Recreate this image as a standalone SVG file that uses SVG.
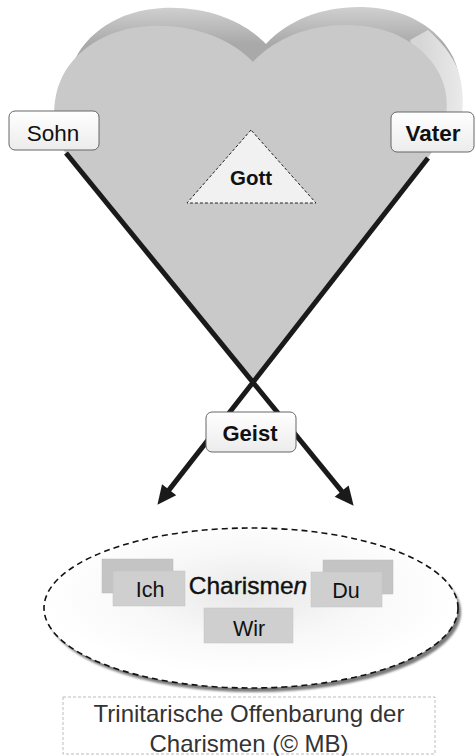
<svg xmlns="http://www.w3.org/2000/svg" width="475" height="756" viewBox="0 0 475 756">
<style>
.lbl{fill:url(#boxg);stroke:#666;stroke-width:1}
.t{font-family:"Liberation Sans",Arial,sans-serif;fill:#111;text-anchor:middle}
.b{font-weight:bold}
.gb{fill:#cfcfcf;stroke:#c2c2c2;stroke-width:0.5}
.gback{fill:#c4c4c4;stroke:#bbb;stroke-width:0.5}
.conn{stroke:#1a1a1a;stroke-width:5;fill:none;marker-end:url(#ah)}
</style>
<defs>
<linearGradient id="boxg" x1="0" y1="0" x2="0" y2="1">
<stop offset="0" stop-color="#ffffff"/>
<stop offset="1" stop-color="#ececec"/>
</linearGradient>
<linearGradient id="bandg" gradientUnits="userSpaceOnUse" x1="0" y1="6" x2="0" y2="62">
<stop offset="0" stop-color="#e4e4e4"/>
<stop offset="1" stop-color="#a9a9a9"/>
</linearGradient>
<linearGradient id="rband" gradientUnits="userSpaceOnUse" x1="420" y1="0" x2="465" y2="0">
<stop offset="0" stop-color="#d6d6d6"/>
<stop offset="1" stop-color="#ebebeb"/>
</linearGradient>
<radialGradient id="ellg" cx="0.5" cy="0.42" r="0.5">
<stop offset="0" stop-color="#e8e8e8"/>
<stop offset="0.55" stop-color="#f8f8f8"/>
<stop offset="1" stop-color="#ffffff"/>
</radialGradient>
<filter id="blur" x="-10%" y="-10%" width="120%" height="120%">
<feGaussianBlur stdDeviation="0.8"/>
</filter>
<marker id="ah" markerUnits="userSpaceOnUse" markerWidth="20" markerHeight="18" refX="8" refY="9" orient="auto" overflow="visible">
<path d="M0,0 L19,9 L0,18 Z" fill="#1a1a1a"/>
</marker>
</defs>

<g id="heart">
<path transform="translate(13,-18)" fill="url(#bandg)" d="M253,383 L60,146 C52,132 52,100 60,82 C72,52 105,28 150,26 C195,24 232,40 253,62 C275,38 310,24 350,25 C392,26 425,45 440,75 C452,100 448,130 428,158 Z"/>
<path fill="url(#rband)" d="M410,40 L428,30 C445,45 458,62 461,82 C464,100 463,112 460,125 L440,130 Z"/>
<path fill="#c9c9c9" d="M253,383 L60,146 C52,132 52,100 60,82 C72,52 105,28 150,26 C195,24 232,40 253,62 C275,38 310,24 350,25 C392,26 425,45 440,75 C452,100 448,130 428,158 Z"/>
</g>

<g id="gott">
<polygon points="251,130 187,203 316,203" fill="#f1f1f1" stroke="#222" stroke-width="1" stroke-dasharray="3,2"/>
<text class="t b" x="251" y="185" font-size="20.5">Gott</text>
</g>

<g id="connectors">
<line class="conn" x1="428" y1="158" x2="164.2" y2="496.1"/>
<line class="conn" x1="66" y1="153" x2="346.7" y2="497.3"/>
</g>

<g id="sohn">
<rect class="lbl" x="9" y="111" width="90" height="39" rx="6"/>
<text class="t" x="53" y="141" font-size="22.5">Sohn</text>
</g>

<g id="vater">
<rect class="lbl" x="391" y="112" width="83" height="40" rx="6"/>
<text class="t b" x="433" y="141" font-size="22.5">Vater</text>
</g>

<g id="geist">
<rect class="lbl" x="206" y="412" width="90" height="40" rx="6"/>
<text class="t b" x="250" y="441" font-size="22">Geist</text>
</g>

<g id="charismen">
<ellipse cx="254" cy="612" rx="207" ry="80" fill="#7a7a7a" filter="url(#blur)"/>
<ellipse cx="251" cy="608" rx="207" ry="80" fill="url(#ellg)" stroke="#111" stroke-width="1.6" stroke-dasharray="6,4"/>
<text class="t" x="248" y="594" font-size="24.5" stroke="#111" stroke-width="0.4">Charisme<tspan font-style="italic">n</tspan></text>
</g>

<g id="ich">
<rect class="gback" x="102" y="559" width="71" height="34"/>
<rect class="gb" x="113" y="571" width="72" height="35"/>
<text class="t" x="150" y="597" font-size="21.5">Ich</text>
</g>

<g id="du">
<rect class="gback" x="323" y="560" width="70" height="34"/>
<rect class="gb" x="311" y="572" width="71" height="35"/>
<text class="t" x="346" y="598" font-size="21.5">Du</text>
</g>

<g id="wir">
<rect class="gb" x="204" y="608" width="89" height="35"/>
<text class="t" x="249" y="636" font-size="21.5">Wir</text>
</g>

<g id="caption">
<rect x="63" y="697" width="372" height="57" fill="none" stroke="#c4b8b8" stroke-width="1" stroke-dasharray="3,2"/>
<text class="t" x="249" y="722" font-size="24" style="fill:#333">Trinitarische Offenbarung der</text>
<text class="t" x="249" y="752" font-size="24" style="fill:#333">Charismen (© MB)</text>
</g>
</svg>
